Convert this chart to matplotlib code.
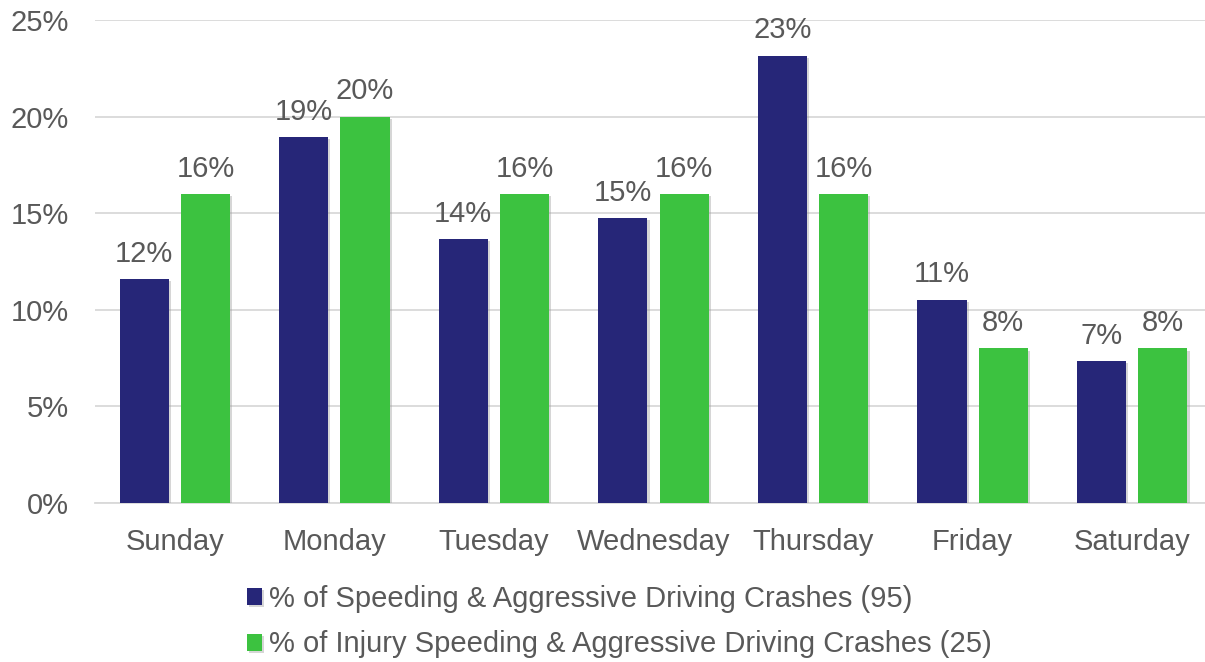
import matplotlib
matplotlib.use("Agg")
import matplotlib.pyplot as plt
import matplotlib.patheffects as pe
import numpy as np

days = ["Sunday", "Monday", "Tuesday", "Wednesday", "Thursday", "Friday", "Saturday"]
speeding = [11.58, 18.95, 13.68, 14.74, 23.16, 10.53, 7.37]
injury = [16, 20, 16, 16, 16, 8, 8]
yticks = [0, 5, 10, 15, 20, 25]
series_names = ["% of Speeding & Aggressive Driving Crashes (95)",
                "% of Injury Speeding & Aggressive Driving Crashes (25)"]

plt.rcParams['font.family'] = ['Liberation Sans', 'DejaVu Sans']
TXT = '#595959'
BLUE = '#262678'
GREEN = '#3CC240'
FS = 21

fig = plt.figure(figsize=(12.05, 6.62), dpi=100)
ax = fig.add_axes([95/1205, 1 - 503/662, 1117/1205, (503 - 20)/662])

x = np.arange(len(days))
w = 0.308
off = 0.192
shadow = [pe.SimplePatchShadow(offset=(1.5, -1.5), shadow_rgbFace='#999999', alpha=0.4), pe.Normal()]
b1 = ax.bar(x - off, speeding, w, color=BLUE, label=series_names[0], zorder=3)
b2 = ax.bar(x + off, injury, w, color=GREEN, label=series_names[1], zorder=3)
for b in list(b1) + list(b2):
    b.set_path_effects(shadow)

for bars, vals in ((b1, speeding), (b2, injury)):
    for b, v in zip(bars, vals):
        ax.annotate(f"{round(v):.0f}%", (b.get_x() + b.get_width()/2, v),
                    xytext=(0, 8), textcoords='offset points', ha='center', va='bottom',
                    fontsize=FS, color=TXT)

ax.set_xlim(-0.5, 6.5)
ax.set_ylim(0, 25)
ax.set_yticks(yticks)
ax.set_yticklabels([f"{t}%" for t in yticks])
ax.set_xticks(x)
ax.set_xticklabels(days)
ax.tick_params(axis='both', length=0, labelsize=FS, colors=TXT)
ax.tick_params(axis='x', pad=18)
ax.tick_params(axis='y', pad=19)
ax.grid(axis='y', color='#d9d9d9', linewidth=1.3, zorder=0)
ax.set_axisbelow(True)
for s in ['top', 'right', 'left']:
    ax.spines[s].set_visible(False)
ax.spines['bottom'].set_color('#d9d9d9')
ax.spines['bottom'].set_linewidth(1.3)

leg = fig.legend(handles=[b1, b2], labels=series_names, loc='upper left',
                 bbox_to_anchor=(247/1205, 1 - 585/662), frameon=False,
                 fontsize=FS, handlelength=0.52, handleheight=0.52,
                 handletextpad=0.25, labelspacing=0.6, borderpad=0, borderaxespad=0)
for t in leg.get_texts():
    t.set_color(TXT)

fig.savefig("out.png", dpi=100)
